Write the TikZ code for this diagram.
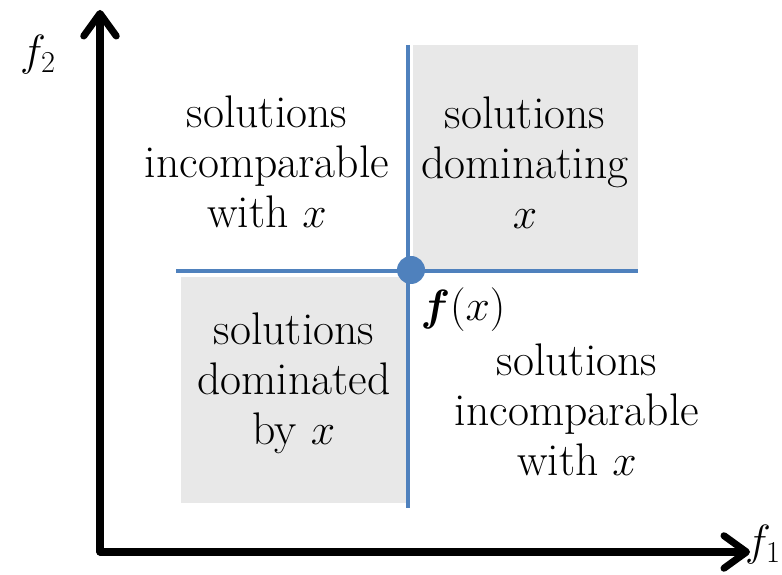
\documentclass[tikz,border=0pt]{standalone}
\usepackage{amsmath,bm}
\usetikzlibrary{positioning}
\usetikzlibrary{arrows.meta}

\definecolor{lineblue}{HTML}{4F81BD}
\definecolor{boxgray}{HTML}{E8E8E8}

\begin{document}
\begin{tikzpicture}[
    region/.style={align=center, font=\fontsize{26}{28.5}\selectfont},
    quad/.style={fill=boxgray, draw=none},
    border/.style={draw=lineblue, line width=2pt},
    axis/.style={line width=4pt, line cap=round, -{Straight Barb[length=4.5mm, width=6.5mm, line cap=round, line join=round]}},
    axlabel/.style={font=\fontsize{26}{28}\selectfont}
]
\useasboundingbox (0,0) rectangle (15.64,11.5);

% Regions
\fill[quad] (8.26,6.1) rectangle (12.76,10.6);
\fill[quad] (3.62,1.44) rectangle (8.14,5.96);

% Quadrant borders
\coordinate (vtop) at (8.16,10.6);
\coordinate (vbot) at (8.16,1.34);
\coordinate (hleft) at (3.52,6.08);
\coordinate (hright) at (12.76,6.08);
\draw[border] (vtop) -- (vbot);
\draw[border] (hleft) -- (hright);

% Point f(x)
\node[circle, fill=lineblue, inner sep=0pt, minimum size=5.6mm] (pt) at (8.22,6.1) {};
\node[axlabel] (fx) at (9.26,5.3) {$\bm{f}(x)$};

% Axes
\coordinate (orig) at (2.0,0.46);
\coordinate (ytip) at (2.0,11.3);
\coordinate (xtip) at (15.0,0.46);
\draw[axis] (orig) -- (ytip);
\draw[axis] (orig) -- (xtip);
\node[axlabel] (f2) at (0.76,10.4) {$f_2$};
\node[axlabel] (f1) at (15.26,0.6) {$f_1$};

% Labels
\node[region] (tl) at (5.34,8.26) {solutions\\incomparable\\with $x$};
\node[region] (tr) at (10.5,8.24) {solutions\\dominating\\$x$};
\node[region] (bl) at (5.88,3.84) {solutions\\dominated\\by $x$};
\node[region] (br) at (11.54,3.3) {solutions\\incomparable\\with $x$};

\end{tikzpicture}
\end{document}
